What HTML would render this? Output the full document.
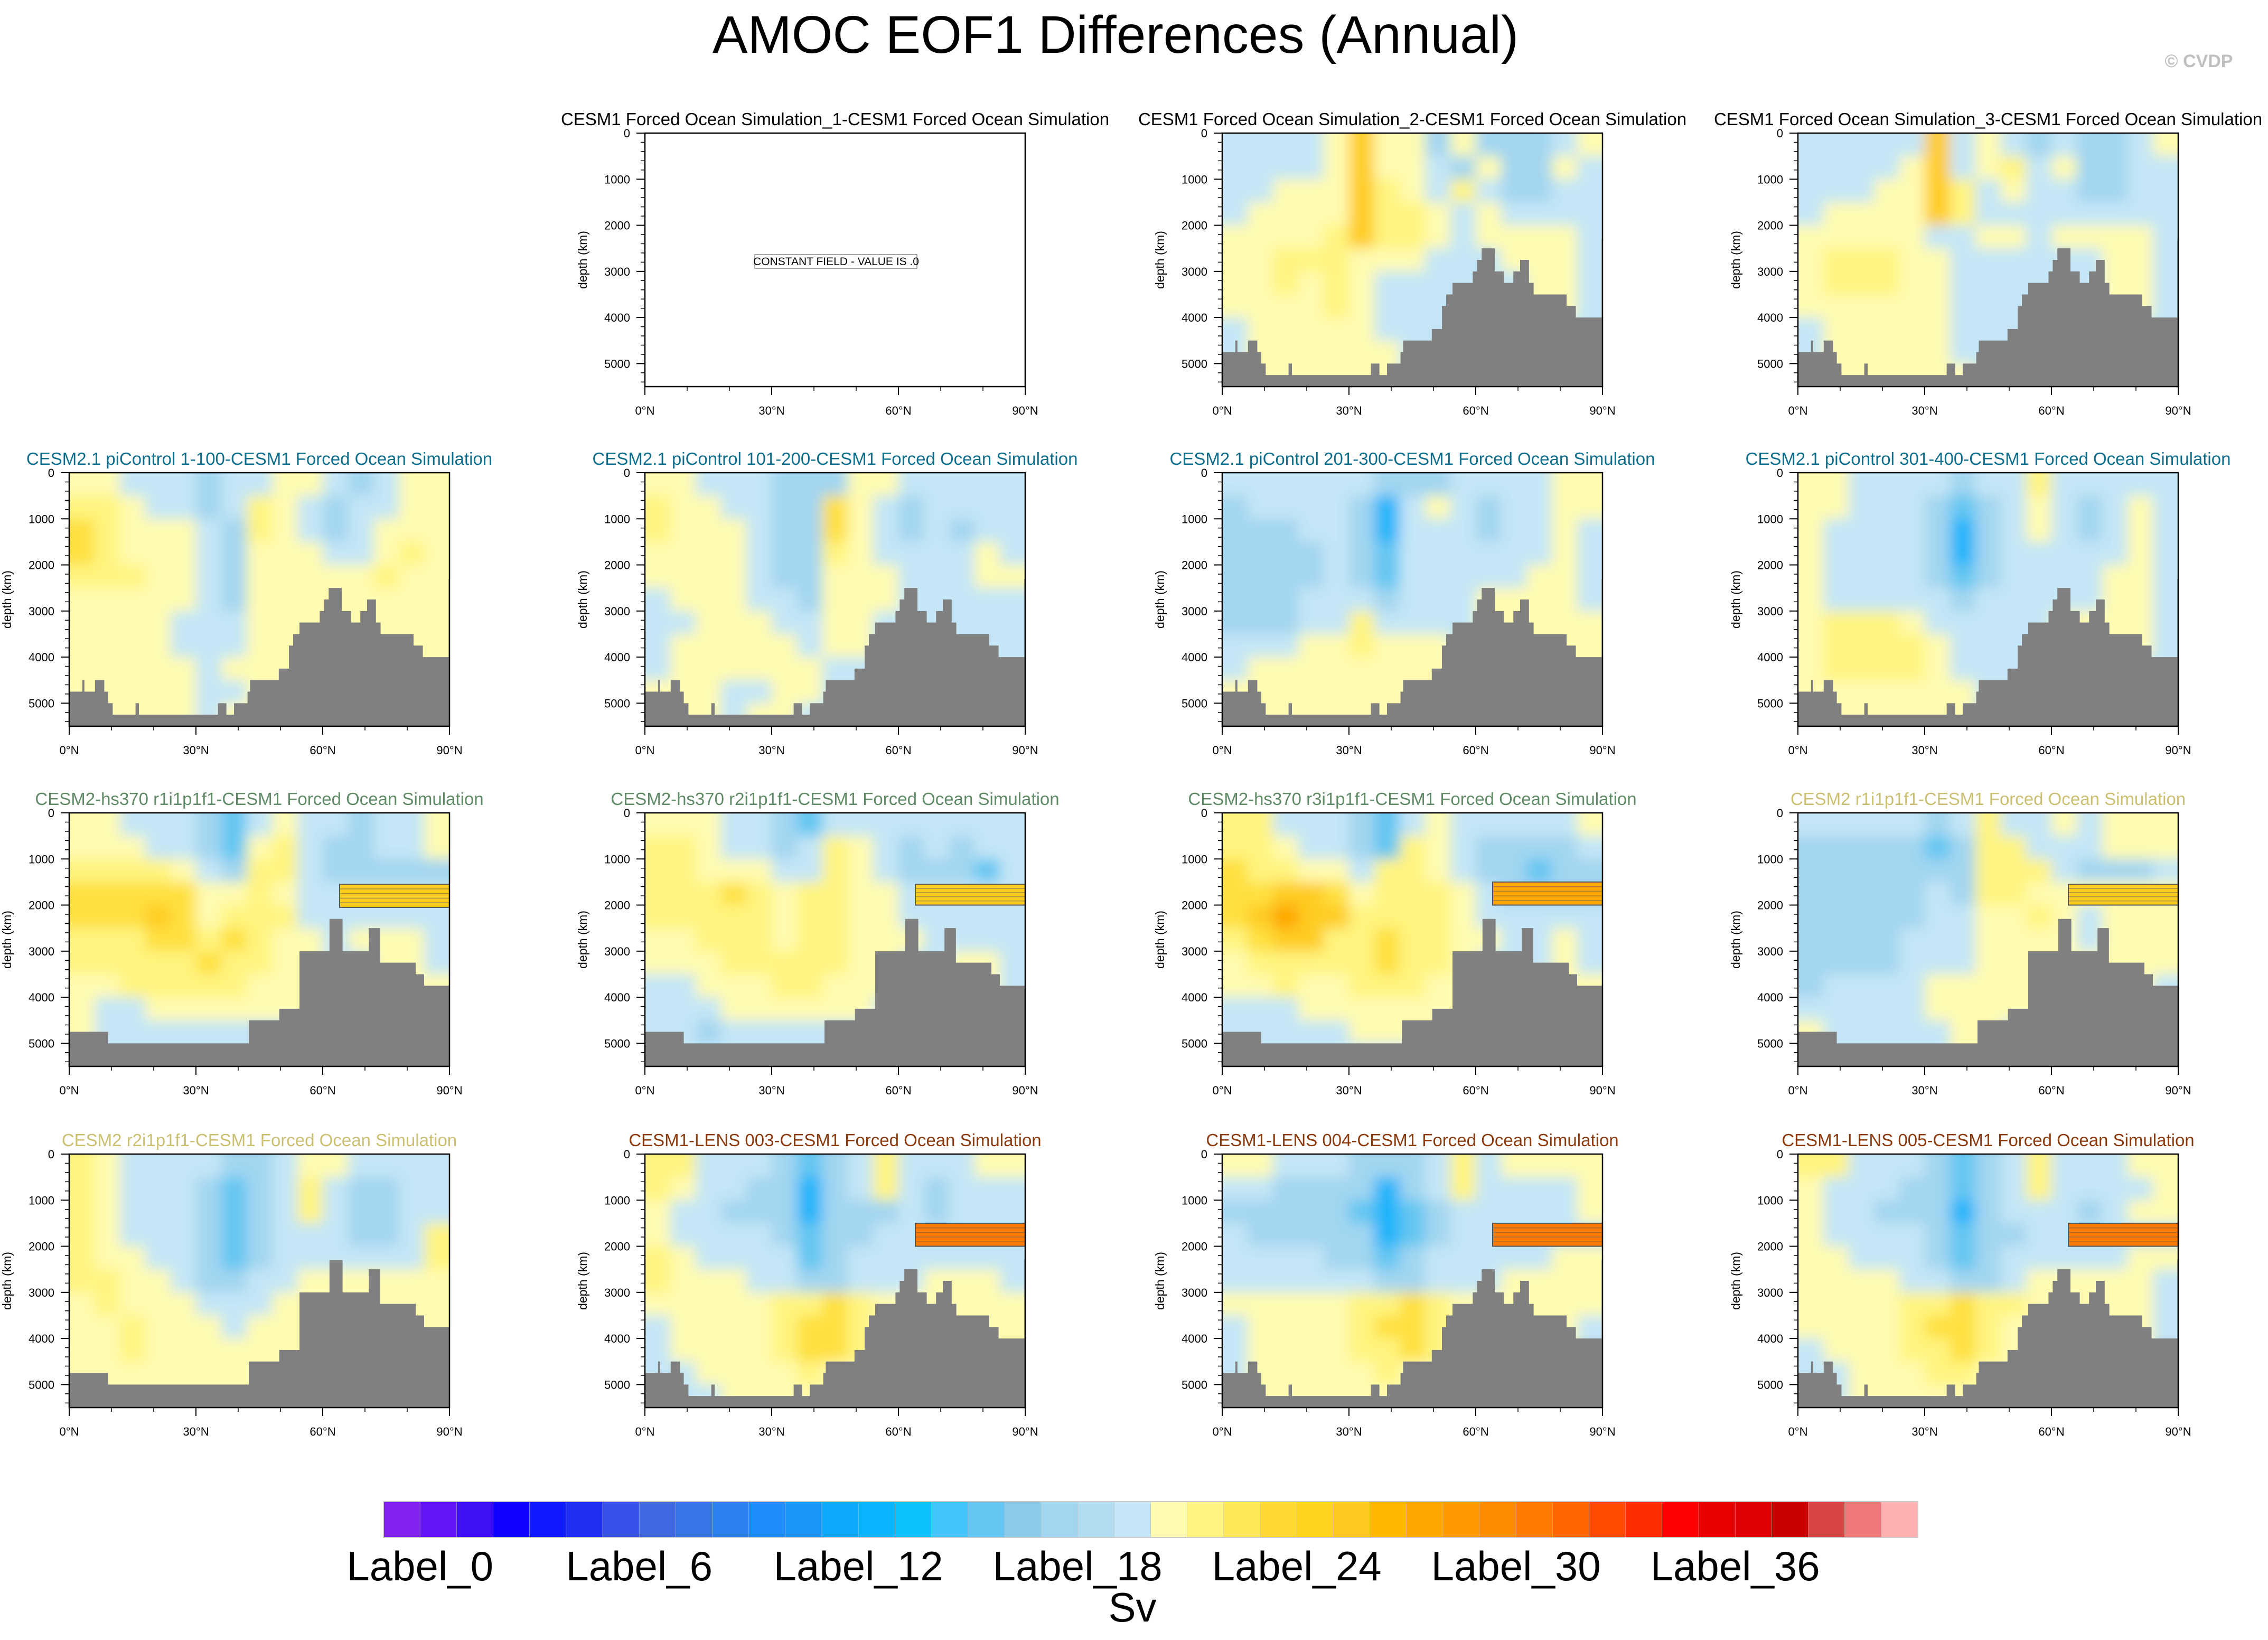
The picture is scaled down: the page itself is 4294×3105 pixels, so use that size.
<!DOCTYPE html>
<html><head><meta charset="utf-8"><title>AMOC EOF1 Differences (Annual)</title>
<style>
html,body{margin:0;padding:0;background:#fff;}
svg{display:block;font-family:"Liberation Sans",Arial,sans-serif;}
</style></head>
<body>
<svg id="fig" width="4294" height="3105" viewBox="0 0 4294 3105" xmlns="http://www.w3.org/2000/svg">
<defs>
<filter id="soft" x="-10%" y="-10%" width="120%" height="120%"><feGaussianBlur stdDeviation="13"/></filter>
</defs>
<rect width="4294" height="3105" fill="#fff"/>
<text x="2112" y="100" font-size="100" text-anchor="middle" fill="#000">AMOC EOF1 Differences (Annual)</text>
<text x="4163" y="127" font-size="34" font-weight="bold" text-anchor="middle" fill="#c0c0c0">© CVDP</text>
<g id="panels"></g>
<g id="cbar"></g>
</svg>
<script>
// ---- data ----
const bathy1Lat = [0,3.1,3.6,6.1,8.3,9.2,10.3,15.7,16.5,35.2,37.2,39,42.2,42.8,49.6,52,53,54.5,59.3,60.3,61.4,64.5,66.7,68.9,70.5,72.6,73.7,81.5,83.7,89.8];
const bathy1Depth = [4750,4500,4750,4500,4750,5000,5250,5000,5250,5000,5250,5000,4750,4500,4250,3750,3500,3250,3000,2750,2500,3000,3250,3000,2750,3250,3500,3750,4000,2300];
const bathy2Lat = [0,9.2,42.5,49.7,54.5,61.6,64.7,70.9,73.6,82,84];
const bathy2Depth = [4750,5000,4500,4250,3000,2300,3000,2500,3250,3500,3750];
const yTicks = [0,1000,2000,3000,4000,5000];
const xTicks = [0,30,60,90];
const xTickLabels = ["0°N","30°N","60°N","90°N"];
const cbColors = ["#8221f0","#6414f5","#4010f5","#1000ff","#0f1aff","#2030f0","#3652e8","#4068e0","#3874ea","#2d80f0","#1e8cfa","#1a98fa","#0ca8fc","#08b4ff","#0cc0fc","#40c4fa","#64c6f2","#8ccaea","#a2d6f0","#b2dcf2","#c4e6f6","#fffbb0","#fff480","#ffe855","#ffd932","#ffd420","#ffc81e","#ffb800","#ffa600","#ff9900","#ff8c00","#ff7800","#ff6600","#ff4c00","#ff2e00","#ff0000","#e80000","#dd0000","#c80000","#d84444","#ee7777","#ffb0b0"];
const cbLabels = ["Label_0","Label_6","Label_12","Label_18","Label_24","Label_30","Label_36"];
const levelColor = {b:"#c4e6f6",c:"#a2d6f0",d:"#64c6f2",e:"#1eb4fa",y:"#fffbb0",Y:"#fff480",o:"#ffe040",O:"#ffcc20",r:"#ffa600",R:"#ff7a00"};

const gridR1C3 = ["bbbbyOyycycccby","bbbbyOyybcyccyb","bbyyyOYybYbccbb","byyyyOYYybybbbb","yyyyYOYYybyyyyb","yyYYYyyybbbyyyb","yyYyYybbbbbbyyb","yyyyYybbbbbyyyb","byyyyybbbbbbbbb","byyyyyybbbbbbbb","byyyyyybbbbbbbb"];
const gridR1C4 = ["bbbbbObybcbccby","bbbbyObyYbyccbb","bbbyyOYbybbccbb","byyyyOYbbbbbbbb","yyyyybbyybyyyyb","yYYYyybbbbbbyyb","yYYYyybbbbbbyyb","yyyyyybbbbbbyyb","byyyyybbbbbbbbb","byyyyybbbbbbbbb","byyyyyybbbbbbbb"];
const gridR2C1 = ["yybbbcbbyybcbyy","YYybbcbYybcbbyy","oYyyybcYybcbyyy","oYyyybcyyybbyYy","YYYyybcyyyyyYyy","yyyyybcyyyyyyyy","yyyybbbyyyyyyyy","yyyybbbyyyyyyyy","yyyyybyyyyyyyyy","yyyyybbyyyyyyyy","yyyyybyyyyyyyyy"];
const gridR2C2 = ["yybbbcccyybbbbb","Yyybbccoybcbbbb","Yyyybccoybcbcbb","yyyybccYybbbbyb","yyyybccyyybbbyy","byyybbcyyybbbbb","bbyyybbyybbbbbb","byyyyybyybbbbbb","byyyyyybbbbbbbb","yyybbyybbbbbbbb","yyybyybbbbbbbbb"];
const gridR2C3 = ["bbbbbbcccbbbbyy","cbbbbcebybcbbyy","cccbbcebbbcbbyb","ccccbcdbbbbbbyb","ccccbcdbbbbbyyb","cccbbbcbbbyyyyb","cccbbYbbbbyyyyy","bbbyyYyyybyyyyy","byyyyyyyyyyyyyy","yyyyyyyyyyyyyyy","yyyyyyyyyyyyyyy"];
const gridR2C4 = ["yybbbbcbbYbbbbb","yybbbcdcbybcbyb","ybbbbcecbybcbyb","ybbbbcecbbbbbyb","ybbbbcdcbbbbyyb","ybbbbbcbbbbbyyb","yYYYybbbbbyyyyb","yYYYYybbbbyyyyb","yYYYYybbbbbbbbb","yyyyyyybbbbbbbb","yyyyyyybbbbbbbb"];
const gridR3C1 = ["yybbbcdbybbcbby","yyybbcdyYbccbby","YYYYybcYYbccccc","oooooyyYybbbbbb","oooOoyYYYbbbbbb","YYYooYoYyybyyyb","YYYYYoYYyybbyyb","yyYYYYYyyybbyyy","ybbyyyyyyybbbbb","ybbbbbbbbbbbbbb","ybbbbbbbbbbbbbb"];
const gridR3C2 = ["yyybbcdbbbbbbbb","YYybbcbYybcbcbb","YYyyybbYybcccdb","YYYoYyYYyybbbbb","YYYYYyYYyybbbbb","yyYYYyYYyyybbbb","yyyYYYYYyybbyyb","bbyyyYYyyybbyyb","bbbyyyyyybbbbbb","bbcbbbbbbbbbbbb","bbbbbbbbbbbbbbb"];
const gridR3C3 = ["YYbbbcdbybbbbby","YYybbcdYybccccb","oYYyybYYybccdcc","ooOOoyYYYybcccc","oOrOOYYYYybbbbb","YoOOYYoYYyybbyb","yYYYYYoYYybbbyb","yyYyyYYYyybbyyy","bbbyyyyyyybbbyy","bbbbbyyyybbbbbb","bbbbbbbbbbbbbbb"];
const gridR3C4 = ["bbbbbcbYbbybyyy","cccccdcYYbbbyyy","cccccccYYYbcccb","cccccbcYYyyyyyy","cccccbbyyYybyyy","ccccbbbyyyybyyy","ccccbbbyyyyyyyy","cbbbbyyyyyyyyyb","bbbbbyyyyyyyyyb","ybbbbbyybbbbbbb","ybbbbbyybbbbbbb"];
const gridR4C1 = ["Yybbbbccbyybbbb","YybbbcdcbYbccbb","YybbbcdcbYbccbb","YybbbcdcbbbccbY","YyybbcdcbbbbbbY","YYyybccbbyyyyyy","yYyyybbbyyyyyyy","yyYyyybyyyyyyyy","yyYyyyyyyyyyyyy","yyyyyyyyyyyyyyy","yyyyyyyyyyyyyyy"];
const gridR4C2 = ["YYbbbcdcbYbbbyy","YybbccecbYbcbbb","ybbcccecccbcbbb","ybbbbcdccbbbbbb","Yybbbbdcbbbbbbb","Yyyybbccbbbyyyb","yyyyyYYoYyyyyyy","byyyyYooYyyyyyy","byyyyYooYyyyyyy","bbyyyyYyyyyyyyy","bbbyyyyyyyyyyyy"];
const gridR4C3 = ["yybbbcccbYbyyyy","bbccccecbYbbbby","cccccdedcbbbbby","bcccccedcbbbbbb","bbbbccdcbbbbbyy","bbbbbbccbbbyyyy","yyyyyYYoYyyyyyy","byyyyYooYyyyyyb","byyyyYYoYyyyyyb","byyyyyYyyyyyyyb","byyyyyyyyyyyyyb"];
const gridR4C4 = ["YYbbbcdcbYbbbyy","ybbbccdcbYbbbby","ybbcccecbbbcbyy","ybbbbcdccbbbbbb","yybbbcdcbbbbbyy","yyyybbccbyyyyyb","yyyyYYoYYyyyyyb","yyyyYooYyyyyyyb","byyyYYoYyyyyyyb","bbyyyYYyyyyyyyb","bbyyyyyyyyyyyyb"];

// band: [latStart, depthTop, depthBottom, level]
const bandR3C1 = [64,1550,2050,"O"];
const bandR3C2 = [64,1550,2000,"O"];
const bandR3C3 = [64,1500,2000,"r"];
const bandR3C4 = [64,1550,2000,"O"];
const bandR4C2 = [64,1500,2000,"R"];
const bandR4C3 = [64,1500,2000,"R"];
const bandR4C4 = [64,1500,2000,"R"];

const panels = [
 {r:0,c:1,title:"CESM1 Forced Ocean Simulation_1-CESM1 Forced Ocean Simulation",color:"#000",grid:null,bathy:0,band:null},
 {r:0,c:2,title:"CESM1 Forced Ocean Simulation_2-CESM1 Forced Ocean Simulation",color:"#000",grid:gridR1C3,bathy:1,band:null},
 {r:0,c:3,title:"CESM1 Forced Ocean Simulation_3-CESM1 Forced Ocean Simulation",color:"#000",grid:gridR1C4,bathy:1,band:null},
 {r:1,c:0,title:"CESM2.1 piControl 1-100-CESM1 Forced Ocean Simulation",color:"#0f6e8c",grid:gridR2C1,bathy:1,band:null},
 {r:1,c:1,title:"CESM2.1 piControl 101-200-CESM1 Forced Ocean Simulation",color:"#0f6e8c",grid:gridR2C2,bathy:1,band:null},
 {r:1,c:2,title:"CESM2.1 piControl 201-300-CESM1 Forced Ocean Simulation",color:"#0f6e8c",grid:gridR2C3,bathy:1,band:null},
 {r:1,c:3,title:"CESM2.1 piControl 301-400-CESM1 Forced Ocean Simulation",color:"#0f6e8c",grid:gridR2C4,bathy:1,band:null},
 {r:2,c:0,title:"CESM2-hs370 r1i1p1f1-CESM1 Forced Ocean Simulation",color:"#5f8a66",grid:gridR3C1,bathy:2,band:bandR3C1},
 {r:2,c:1,title:"CESM2-hs370 r2i1p1f1-CESM1 Forced Ocean Simulation",color:"#5f8a66",grid:gridR3C2,bathy:2,band:bandR3C2},
 {r:2,c:2,title:"CESM2-hs370 r3i1p1f1-CESM1 Forced Ocean Simulation",color:"#5f8a66",grid:gridR3C3,bathy:2,band:bandR3C3},
 {r:2,c:3,title:"CESM2 r1i1p1f1-CESM1 Forced Ocean Simulation",color:"#cbbf72",grid:gridR3C4,bathy:2,band:bandR3C4},
 {r:3,c:0,title:"CESM2 r2i1p1f1-CESM1 Forced Ocean Simulation",color:"#cbbf72",grid:gridR4C1,bathy:2,band:null},
 {r:3,c:1,title:"CESM1-LENS 003-CESM1 Forced Ocean Simulation",color:"#8b3a0e",grid:gridR4C2,bathy:1,band:bandR4C2},
 {r:3,c:2,title:"CESM1-LENS 004-CESM1 Forced Ocean Simulation",color:"#8b3a0e",grid:gridR4C3,bathy:1,band:bandR4C3},
 {r:3,c:3,title:"CESM1-LENS 005-CESM1 Forced Ocean Simulation",color:"#8b3a0e",grid:gridR4C4,bathy:1,band:bandR4C4}
];

// ---- layout ----
const NS="http://www.w3.org/2000/svg";
const colLeft=[131,1221,2314,3404], rowTop=[252,895,1539,2185], PW=720, PH=480, DMAX=5500;
function mk(tag,attrs,parent){const e=document.createElementNS(NS,tag);for(const k in attrs)e.setAttribute(k,attrs[k]);if(parent)parent.appendChild(e);return e;}
const root=document.getElementById('panels');
const defs=document.querySelector('defs');

panels.forEach((p,idx)=>{
  const L=colLeft[p.c], T=rowTop[p.r];
  const xs=lat=>L+lat/90*PW, ys=d=>T+d/DMAX*PH;
  const g=mk('g',{},root);
  
  
  const t=mk('text',{x:L+PW/2,y:T-15,'font-size':33,'text-anchor':'middle',fill:p.color},g);
  
  
  t.textContent=p.title;
  const cp=mk('clipPath',{id:'cp'+idx},defs);
  mk('rect',{x:L,y:T,width:PW,height:PH},cp);
  const plot=mk('g',{'clip-path':'url(#cp'+idx+')'},g);
  
  
  if(p.grid){
    const fg=mk('g',{filter:'url(#soft)'},plot);
    const nr=p.grid.length, nc=p.grid[0].length;
    for(let i=0;i<nr;i++)for(let j=0;j<nc;j++){
      const d0=i*DMAX/nr, d1=(i+1)*DMAX/nr, l0=j*90/nc, l1=(j+1)*90/nc;
      let x0=xs(l0),x1=xs(l1),y0=ys(d0),y1=ys(d1);
      if(j===0)x0-=60; if(j===nc-1)x1+=60; if(i===0)y0-=60; if(i===nr-1)y1+=60;
      const r=mk('rect',{x:x0,y:y0,width:x1-x0+1,height:y1-y0+1,fill:levelColor[p.grid[i][j]]},fg);
      
      
    }
    if(p.band){
      const b=p.band;
      const br=mk('rect',{x:xs(b[0]),y:ys(b[1]),width:xs(90)-xs(b[0])+5,height:ys(b[2])-ys(b[1]),fill:levelColor[b[3]],stroke:'#555','stroke-width':2},plot);
      
      
      for(let k=1;k<5;k++){const yy=ys(b[1])+k*(ys(b[2])-ys(b[1]))/5;mk('line',{x1:xs(b[0]),x2:xs(90),y1:yy,y2:yy,stroke:'#666','stroke-width':1.5,opacity:0.6},plot);}
    }
    const lats=p.bathy===2?bathy2Lat:bathy1Lat, deps=p.bathy===2?bathy2Depth:bathy1Depth;
    let dstr='M'+xs(0)+','+ys(DMAX+100);
    for(let k=0;k<lats.length;k++){
      const next=k+1<lats.length?lats[k+1]:90;
      dstr+=' L'+xs(lats[k])+','+ys(deps[k])+' L'+(next===90?xs(90)+5:xs(next))+','+ys(deps[k]);
    }
    dstr+=' L'+(xs(90)+5)+','+ys(DMAX+100)+' Z';
    const bp=mk('path',{d:dstr,fill:'#808080'},plot);
    
    
  } else {
    const bx=mk('rect',{x:1429,y:482,width:307,height:26,fill:'#fff',stroke:'#888','stroke-width':1.5},g);
    
    
    const ct=mk('text',{x:1583,y:502,'font-size':21,'text-anchor':'middle',fill:'#000'},g);
    
    
    ct.textContent='CONSTANT FIELD - VALUE IS .0';
  }
  const fr=mk('rect',{x:L,y:T,width:PW,height:PH,fill:'none',stroke:'#000','stroke-width':2.5},g);
  
  
  // y ticks
  const ya=mk('g',{},g);
  
  
  for(let d=0;d<=DMAX;d+=200){const yy=ys(d);mk('line',{x1:L,x2:L-8,y1:yy,y2:yy,stroke:'#000','stroke-width':1.5},ya);}
  yTicks.forEach(d=>{const yy=ys(d);mk('line',{x1:L,x2:L-16,y1:yy,y2:yy,stroke:'#000','stroke-width':2},ya);
    const tl=mk('text',{x:L-28,y:yy+8,'font-size':22,'text-anchor':'end',fill:'#000'},ya);
    
    
    tl.textContent=String(d);});
  const yt=mk('text',{x:L-110,y:T+PH/2,'font-size':23,'text-anchor':'middle',fill:'#000',transform:'rotate(-90 '+(L-110)+' '+(T+PH/2)+')'},ya);
  
  
  yt.textContent='depth (km)';
  // x ticks
  const xa=mk('g',{},g);
  
  
  for(let l=0;l<=90;l+=10){mk('line',{x1:xs(l),x2:xs(l),y1:T+PH,y2:T+PH+8,stroke:'#000','stroke-width':1.5},xa);}
  xTicks.forEach((l,k)=>{mk('line',{x1:xs(l),x2:xs(l),y1:T+PH,y2:T+PH+16,stroke:'#000','stroke-width':2},xa);
    const tl=mk('text',{x:xs(l),y:T+PH+53,'font-size':22,'text-anchor':'middle',fill:'#000'},xa);
    
    
    tl.textContent=xTickLabels[k];});
});

// colorbar
const cb=document.getElementById('cbar');
const cbL=726, cbT=2843, cbW=2905, cbH=68, bw=cbW/cbColors.length;
cbColors.forEach((c,i)=>{
  const r=mk('rect',{x:cbL+i*bw,y:cbT,width:bw+0.5,height:cbH,fill:c,stroke:'#bbb','stroke-width':0.6},cb);
  
  
});
mk('rect',{x:cbL,y:cbT,width:cbW,height:cbH,fill:'none',stroke:'#ccc','stroke-width':2},cb);
cbLabels.forEach((s,k)=>{
  const t=mk('text',{x:cbL+(1+6*k)*bw,y:2992,'font-size':78,'text-anchor':'middle',fill:'#000'},cb);
  
  
  t.textContent=s;
});
const sv=mk('text',{x:2144,y:3070,'font-size':78,'text-anchor':'middle',fill:'#000'},cb);


sv.textContent='Sv';
</script>
</body></html>
